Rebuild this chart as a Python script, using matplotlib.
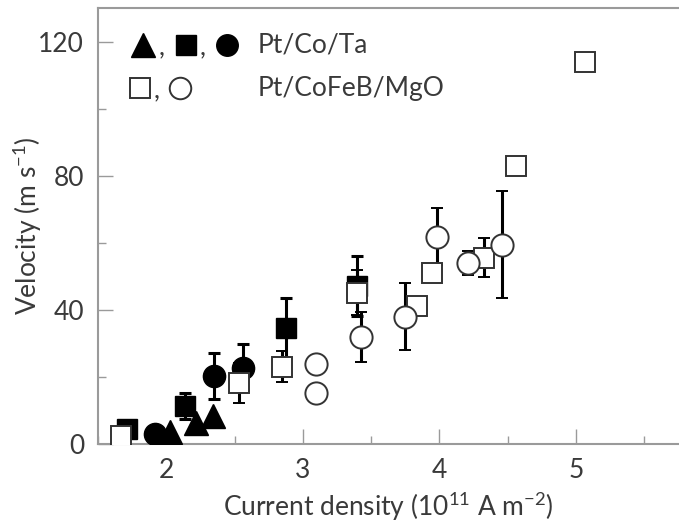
import numpy as np
import matplotlib
matplotlib.use('Agg')
import matplotlib.pyplot as plt

plt.rcParams['font.family'] = ['Lato', 'DejaVu Sans']
plt.rcParams['mathtext.default'] = 'regular'

# Pt/Co/Ta (filled markers)
tri_x = [2.03, 2.22, 2.34]
tri_y = [3.6, 6.3, 8.4]

fsq_x = [1.71, 2.14, 2.88, 3.40]
fsq_y = [4.5, 11.3, 34.6, 47.2]
fsq_err = [0, 3.9, 9.0, 9.0]

fci_x = [1.92, 2.35, 2.56]
fci_y = [3.0, 20.3, 22.7]
fci_err = [0, 6.8, 7.0]

# Pt/CoFeB/MgO (open markers)
osq_x = [1.67, 2.53, 2.85, 3.40, 3.84, 3.95, 4.33, 4.56, 5.07]
osq_y = [2.4, 18.2, 23.0, 45.1, 41.2, 51.0, 55.5, 83.0, 114.0]
osq_err = [0, 6.0, 4.6, 6.7, 0, 0, 5.8, 2.5, 0]

oci_x = [3.10, 3.10, 3.43, 3.75, 3.98, 4.21, 4.46]
oci_y = [23.9, 15.2, 31.9, 37.9, 61.8, 54.0, 59.4]
oci_err = [0, 0, 7.5, 10.0, 8.5, 3.6, 16.0]

txt = '#3a3a3a'
spine = '#9a9a9a'
fs = 19

fig = plt.figure(figsize=(6.79, 5.25), dpi=100)
ax = fig.add_axes([98/679, 1-444/525, 581/679, 436/525])

ax.set_xlim(1.5, 1.5 + 581/136.5)
ax.set_ylim(0, 130)

eb = dict(ls='none', ecolor='black', elinewidth=2.2, capsize=4, capthick=2.2)

# filled first, open markers sit on top
ax.plot(tri_x, tri_y, '^', ms=17, color='black', zorder=3)
ax.errorbar(fsq_x, fsq_y, yerr=fsq_err, fmt='s', ms=14.5, mfc='black', mec='black', zorder=3, **eb)
ax.errorbar(fci_x, fci_y, yerr=fci_err, fmt='o', ms=16, mfc='black', mec='black', zorder=3, **eb)

ax.errorbar(osq_x, osq_y, yerr=osq_err, fmt='s', ms=14, mfc='white', mec='#333333', mew=1.4, zorder=4, **eb)
ax.errorbar(oci_x, oci_y, yerr=oci_err, fmt='o', ms=16, mfc='white', mec='#333333', mew=1.4, zorder=4, **eb)

# legend drawn by hand
tr = ax.transAxes
ax.plot(0.0775, 0.915, '^', ms=17, color='black', transform=tr, clip_on=False)
ax.plot(0.1515, 0.915, 's', ms=14, color='black', transform=tr, clip_on=False)
ax.plot(0.222, 0.915, 'o', ms=15.5, color='black', transform=tr, clip_on=False)
ax.text(0.104, 0.893, ',', transform=tr, fontsize=fs, color=txt)
ax.text(0.175, 0.893, ',', transform=tr, fontsize=fs, color=txt)
ax.text(0.274, 0.915, 'Pt/Co/Ta', transform=tr, fontsize=fs, color=txt, va='center')

ax.plot(0.072, 0.8165, 's', ms=14, mfc='white', mec='#333333', mew=1.4, transform=tr, clip_on=False)
ax.plot(0.141, 0.8165, 'o', ms=15.5, mfc='white', mec='#333333', mew=1.4, transform=tr, clip_on=False)
ax.text(0.095, 0.795, ',', transform=tr, fontsize=fs, color=txt)
ax.text(0.274, 0.8165, 'Pt/CoFeB/MgO', transform=tr, fontsize=fs, color=txt, va='center')

ax.set_xticks([2, 3, 4, 5])
ax.set_xticks(np.arange(1.5, 5.8, 0.5), minor=True)
ax.set_yticks([0, 40, 80, 120])
ax.set_yticks([20, 60, 100], minor=True)

ax.tick_params(which='major', direction='in', length=11, width=1, color=spine,
               labelsize=fs, labelcolor=txt, pad=10)
ax.tick_params(which='minor', direction='in', length=6, width=1, color=spine)

for s in ['left', 'bottom', 'top']:
    ax.spines[s].set_color(spine)
    ax.spines[s].set_linewidth(1.5)
ax.spines['right'].set_visible(False)

ax.set_xlabel('Current density (10$^{11}$ A m$^{-2}$)', fontsize=fs, color=txt, labelpad=5)
ax.set_ylabel('Velocity (m s$^{-1}$)', fontsize=fs, color=txt, labelpad=-4)

plt.savefig('out.png', dpi=100)
